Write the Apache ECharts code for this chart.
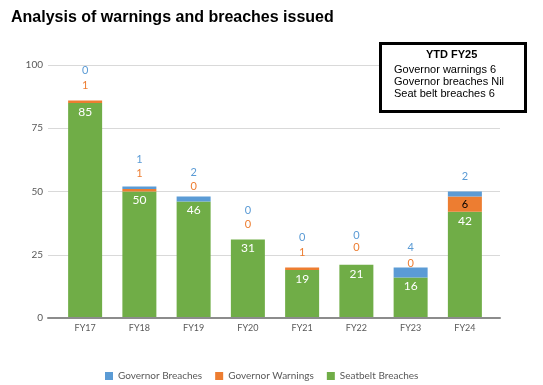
<!DOCTYPE html>
<html>
<head>
<meta charset="utf-8">
<script src="https://cdn.jsdelivr.net/npm/echarts@6/dist/echarts.min.js"></script>
<style>html,body{margin:0;padding:0;background:#fff;}#c{width:543px;height:385px;}</style>
</head>
<body>
<div id="c"></div>
<script>
var categories = ['FY17','FY18','FY19','FY20','FY21','FY22','FY23','FY24'];
var seatbeltBreaches = [85, 50, 46, 31, 19, 21, 16, 42];
var governorWarnings = [1, 1, 0, 0, 1, 0, 0, 6];
var governorBreaches = [0, 1, 2, 0, 0, 0, 4, 2];
var yTicks = [0, 25, 50, 75, 100];
var ytdTitle = 'YTD FY25';
var ytdLines = ['Governor warnings 6', 'Governor breaches Nil', 'Seat belt breaches 6'];

// label placement styles (px above segment top)
var warnLift = [9, 10, 10, 10, 9, 12, 9, null];
var breachLift = [24, 21, 19, 24, 24, 24, 14, 10];

var BLUE = '#5B9BD5', ORANGE = '#ED7D31', GREEN = '#70AD47';
var FONT = 'Lato, "Open Sans", sans-serif';

var chart = echarts.init(document.getElementById('c'), null, {renderer: 'canvas'});

var warnData = governorWarnings.map(function (v, i) {
  var lbl = warnLift[i] == null
    ? {show: true, position: 'inside', color: '#000', fontSize: 11, fontFamily: FONT}
    : {show: true, position: 'top', distance: warnLift[i], color: ORANGE, fontSize: 11, fontFamily: FONT};
  return {value: v, label: lbl};
});
var breachData = governorBreaches.map(function (v, i) {
  return {value: v, label: {show: true, position: 'top', distance: breachLift[i], color: BLUE, fontSize: 11, fontFamily: FONT}};
});

var option = {
  animation: false,
  backgroundColor: '#fff',
  title: {
    text: 'Analysis of warnings and breaches issued',
    left: 11, top: 10, padding: 0,
    textStyle: {fontFamily: 'Arial, "Liberation Sans", sans-serif', fontSize: 16, fontWeight: 'bold', color: '#000'}
  },
  legend: {
    data: ['Governor Breaches', 'Governor Warnings', 'Seatbelt Breaches'],
    left: 100, top: 366,
    icon: 'rect', itemWidth: 8, itemHeight: 8, itemGap: 13,
    textStyle: {fontFamily: FONT, fontSize: 10, color: '#595959'}
  },
  grid: [
    {left: 48, right: 43, top: 65, bottom: 67},
    {left: 58, right: 51, top: 65, bottom: 67}
  ],
  xAxis: [
    {type: 'category', gridIndex: 0, data: categories,
     axisLine: {show: true, lineStyle: {color: '#8c8c8c', width: 2}},
     axisTick: {show: false}, axisLabel: {show: false}, z: 5},
    {type: 'category', gridIndex: 1, data: categories,
     axisLine: {show: false}, axisTick: {show: false},
     axisLabel: {color: '#595959', fontSize: 9, fontFamily: FONT, margin: 6}}
  ],
  yAxis: [
    {type: 'value', gridIndex: 0, min: yTicks[0], max: yTicks[yTicks.length - 1], interval: 25,
     axisLine: {show: false}, axisTick: {show: false},
     axisLabel: {color: '#595959', fontSize: 10, fontFamily: FONT, margin: 5},
     splitLine: {lineStyle: {color: '#d9d9d9', width: 1}}},
    {type: 'value', gridIndex: 1, min: yTicks[0], max: yTicks[yTicks.length - 1], interval: 25, show: false}
  ],
  series: [
    {name: 'Seatbelt Breaches', type: 'bar', stack: 's', xAxisIndex: 1, yAxisIndex: 1,
     barWidth: 34, data: seatbeltBreaches, itemStyle: {color: GREEN},
     label: {show: true, position: 'insideTop', distance: 3, color: '#fff', fontSize: 12, fontFamily: FONT}},
    {name: 'Governor Warnings', type: 'bar', stack: 's', xAxisIndex: 1, yAxisIndex: 1,
     barWidth: 34, data: warnData, itemStyle: {color: ORANGE}},
    {name: 'Governor Breaches', type: 'bar', stack: 's', xAxisIndex: 1, yAxisIndex: 1,
     barWidth: 34, data: breachData, itemStyle: {color: BLUE}}
  ],
  graphic: [
    {type: 'rect', left: 379, top: 42, shape: {width: 145, height: 68},
     style: {fill: '#fff', stroke: '#000', lineWidth: 3}, z: 10},
    {type: 'text', left: 426, top: 49, z: 11,
     style: {text: ytdTitle, fill: '#000', font: 'bold 11px Arial, "Liberation Sans", sans-serif'}},
    {type: 'text', left: 394, top: 64, z: 11,
     style: {text: ytdLines.join('\n'), fill: '#000', font: '11px Arial, "Liberation Sans", sans-serif', lineHeight: 11.8}}
  ]
};
chart.setOption(option);
</script>
</body>
</html>
